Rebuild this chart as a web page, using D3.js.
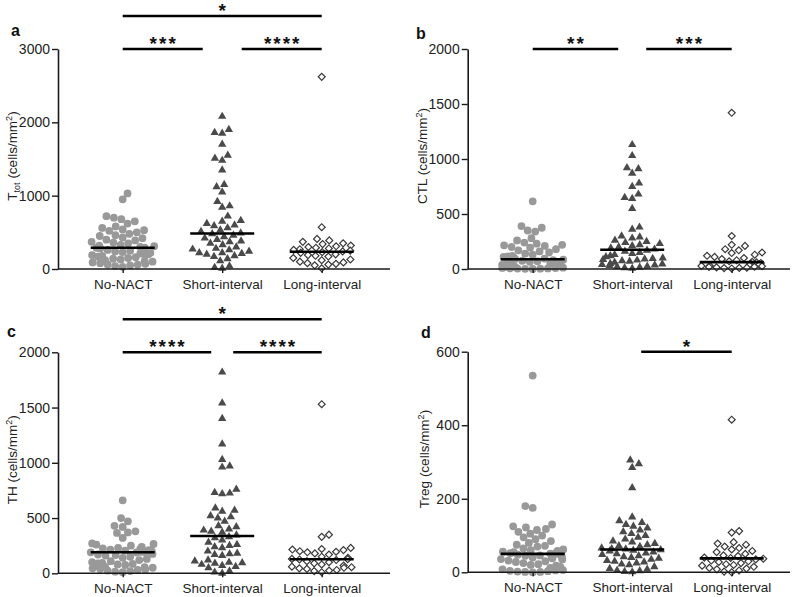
<!DOCTYPE html>
<html>
<head>
<meta charset="utf-8">
<script src="https://cdn.jsdelivr.net/npm/d3@7"></script>
<style>
  html, body { margin: 0; padding: 0; background: #fff; }
  svg { display: block; font-family: "Liberation Sans", Arial, Helvetica, sans-serif; }
</style>
</head>
<body>
<svg id="chart" width="800" height="597"></svg>
<script>
// ---------------- DATA ----------------
const categories = ["No-NACT", "Short-interval", "Long-interval"];

// Panel a: T_tot (cells/mm2)
const ttotNoNACT = [1030, 950, 720, 700, 680, 650, 620, 580, 560, 540, 530, 520, 500, 480, 460, 450, 430, 420, 400, 390, 370, 360, 350, 330, 320, 310, 300, 290, 290, 280, 270, 260, 250, 240, 230, 220, 210, 200, 200, 190, 180, 170, 160, 150, 140, 130, 120, 110, 100, 90, 80, 70, 60, 60, 50, 40, 30];
const ttotShort = [2080, 1900, 1860, 1850, 1700, 1550, 1510, 1480, 1350, 1150, 1120, 1050, 920, 860, 840, 720, 660, 650, 620, 600, 590, 560, 530, 510, 490, 480, 460, 440, 420, 400, 380, 370, 350, 330, 300, 280, 270, 260, 240, 220, 220, 210, 200, 180, 170, 140, 110, 40, 20, 10];
const ttotLong = [2620, 570, 410, 390, 370, 350, 340, 320, 310, 300, 290, 280, 270, 260, 250, 240, 230, 220, 200, 190, 180, 170, 150, 130, 120, 100, 90, 80, 70, 60, 50, 10];
const ttotTicks = [0, 1000, 2000, 3000];
const ttotSig = [[0, 1, "***"], [1, 2, "****"], [0, 2, "*"]];

// Panel b: CTL (cells/mm2)
const ctlNoNACT = [615, 390, 375, 350, 340, 280, 260, 240, 230, 220, 215, 210, 200, 195, 180, 170, 160, 150, 140, 130, 120, 115, 110, 105, 100, 95, 92, 90, 88, 85, 80, 75, 70, 65, 60, 55, 50, 45, 40, 38, 35, 30, 28, 25, 22, 20, 18, 15, 12, 10, 8, 6, 5, 4, 3, 2, 1];
const ctlShort = [1130, 1030, 920, 910, 870, 780, 750, 680, 650, 640, 550, 380, 360, 300, 290, 280, 260, 250, 240, 230, 220, 210, 200, 190, 180, 170, 160, 150, 140, 130, 120, 110, 100, 95, 90, 85, 80, 75, 70, 60, 50, 45, 40, 35, 30, 25, 20, 15, 10, 5];
const ctlLong = [1420, 300, 220, 210, 180, 170, 150, 145, 130, 120, 110, 100, 90, 80, 70, 65, 60, 55, 50, 45, 40, 35, 30, 28, 25, 20, 18, 15, 12, 10, 8, 5];
const ctlTicks = [0, 500, 1000, 1500, 2000];
const ctlSig = [[0, 1, "**"], [1, 2, "***"]];

// Panel c: TH (cells/mm2)
const thNoNACT = [660, 500, 470, 430, 420, 380, 370, 365, 320, 270, 265, 260, 250, 240, 230, 225, 220, 215, 210, 205, 200, 200, 198, 197, 196, 195, 195, 192, 190, 188, 175, 170, 165, 160, 150, 140, 130, 120, 110, 100, 95, 90, 85, 80, 75, 70, 60, 55, 50, 45, 40, 35, 30, 25, 20, 15, 10];
const thShort = [1820, 1540, 1400, 1170, 1030, 970, 960, 760, 730, 725, 720, 590, 570, 560, 520, 510, 500, 470, 430, 420, 400, 390, 380, 370, 345, 330, 320, 300, 280, 260, 250, 240, 230, 200, 180, 175, 170, 160, 120, 110, 100, 95, 90, 80, 70, 60, 50, 20, 10, 0];
const thLong = [1530, 350, 330, 230, 220, 215, 210, 200, 195, 190, 180, 170, 150, 140, 130, 128, 125, 120, 110, 100, 90, 80, 70, 60, 55, 50, 45, 40, 30, 25, 20, 10];
const thTicks = [0, 500, 1000, 1500, 2000];
const thSig = [[0, 1, "****"], [1, 2, "****"], [0, 2, "*"]];

// Panel d: Treg (cells/mm2)
const tregNoNACT = [535, 180, 175, 130, 125, 122, 118, 115, 110, 105, 100, 95, 90, 85, 80, 75, 72, 70, 65, 62, 60, 58, 56, 55, 53, 52, 51, 50, 50, 48, 46, 45, 43, 42, 40, 38, 36, 35, 32, 30, 28, 25, 22, 20, 18, 15, 12, 10, 8, 6, 5, 4, 3, 2, 1, 1, 0];
const tregShort = [305, 295, 285, 230, 150, 140, 135, 130, 125, 120, 115, 110, 105, 100, 95, 90, 85, 82, 78, 75, 72, 70, 66, 64, 63, 61, 60, 58, 55, 52, 50, 48, 45, 42, 40, 38, 35, 32, 30, 28, 25, 22, 20, 15, 10, 8, 5, 4, 2, 1];
const tregLong = [415, 112, 108, 82, 78, 75, 70, 66, 62, 58, 55, 50, 46, 44, 40, 39, 37, 35, 32, 30, 28, 25, 22, 20, 18, 15, 12, 10, 8, 5, 2, 0];
const tregTicks = [0, 200, 400, 600];
const tregSig = [[1, 2, "*"]];

// ---------------- LAYOUT ----------------
const panels = [
  { letter: "a", name: "T", sub: "tot", series: [ttotNoNACT, ttotShort, ttotLong], ticks: ttotTicks, sig: ttotSig,
    left: 58, right: 390, top: 49, bottom: 269, c0: 122.7, c2: 321.7, gap: 19.5,
    letterX: 11, letterY: 36, titleX: 17 },
  { letter: "b", name: "CTL", sub: null, series: [ctlNoNACT, ctlShort, ctlLong], ticks: ctlTicks, sig: ctlSig,
    left: 467.7, right: 790, top: 49, bottom: 269, c0: 532.7, c2: 731.7, gap: 14,
    letterX: 416, letterY: 39, titleX: 427 },
  { letter: "c", name: "TH", sub: null, series: [thNoNACT, thShort, thLong], ticks: thTicks, sig: thSig,
    left: 58, right: 390, top: 352.3, bottom: 573.3, c0: 122.7, c2: 321.7, gap: 11,
    letterX: 7, letterY: 337, titleX: 17 },
  { letter: "d", name: "Treg", sub: null, series: [tregNoNACT, tregShort, tregLong], ticks: tregTicks, sig: tregSig,
    left: 467.7, right: 790, top: 351.7, bottom: 572.3, c0: 532.7, c2: 731.7, gap: 9,
    letterX: 421, letterY: 338, titleX: 429 }
];

const svg = d3.select("#chart");
const AXIS = "#1a1a1a";

// simple beeswarm layout: returns x offsets for each value
function swarm(values, y, D, maxW) {
  const pts = values.map((v, i) => ({ v, i, y: y(v) })).sort((a, b) => b.y - a.y);
  const placed = [];
  let flip = 1;
  pts.forEach(p => {
    const intervals = [];
    placed.forEach(q => {
      const dy = Math.abs(q.y - p.y);
      if (dy < D) {
        const w = Math.sqrt(D * D - dy * dy);
        intervals.push([q.x - w, q.x + w]);
      }
    });
    let cands = [0];
    intervals.forEach(iv => { cands.push(iv[0], iv[1]); });
    cands = cands.filter(c => !intervals.some(iv => c > iv[0] + 1e-6 && c < iv[1] - 1e-6));
    cands.sort((a, b) => (Math.abs(a) - Math.abs(b)) || (flip * (b - a)));
    let x = cands.length ? cands[0] : 0;
    if (Math.abs(x) > maxW) {
      x = Math.sign(x) * maxW * (0.55 + 0.45 * ((placed.length * 7) % 10) / 10);
    }
    flip = -flip;
    p.x = x;
    placed.push(p);
  });
  const out = new Array(values.length);
  pts.forEach(p => { out[p.i] = p.x; });
  return out;
}

panels.forEach(P => {
  const g = svg.append("g");
  const ymax = d3.max(P.ticks);
  const y = d3.scaleLinear().domain([0, ymax]).range([P.bottom, P.top]);
  const x = d3.scalePoint().domain(categories).range([P.c0, P.c2]);

  // points
  P.series.forEach((vals, gi) => {
    const xs = swarm(vals, y, 7.6, 32);
    const cx = x(categories[gi]);
    const sel = g.append("g").selectAll("path").data(vals).join("path")
      .attr("transform", (d, i) => `translate(${cx + xs[i]},${y(d)})` + (gi === 2 ? " rotate(45)" : ""));
    if (gi === 0) {
      sel.attr("d", d3.symbol(d3.symbolCircle, Math.PI * 3.9 * 3.9)).attr("fill", "#999999");
    } else if (gi === 1) {
      sel.attr("d", d3.symbol(d3.symbolTriangle, 30)).attr("fill", "#4a4a4a");
    } else {
      sel.attr("d", d3.symbol(d3.symbolSquare, 24)).attr("fill", "#ffffff")
        .attr("stroke", "#3a3a3a").attr("stroke-width", 1.2);
    }
  });

  // median lines
  P.series.forEach((vals, gi) => {
    const m = d3.median(vals);
    const cx = x(categories[gi]);
    g.append("line").attr("x1", cx - 32).attr("x2", cx + 32)
      .attr("y1", y(m)).attr("y2", y(m))
      .attr("stroke", "#000").attr("stroke-width", 2.6);
  });

  // y axis
  const ya = g.append("g").attr("transform", `translate(${P.left},0)`)
    .call(d3.axisLeft(y).tickValues(P.ticks).tickSize(6).tickSizeOuter(0).tickPadding(2).tickFormat(d3.format("d")));
  ya.select(".domain").attr("stroke", AXIS).attr("stroke-width", 1.6);
  ya.selectAll(".tick line").attr("stroke", AXIS).attr("stroke-width", 1.4);
  ya.selectAll(".tick text").attr("font-size", 14).attr("fill", "#222")
    .style("font-family", "'Liberation Sans', Arial, sans-serif");

  // x axis
  g.append("line").attr("x1", P.left).attr("x2", P.right).attr("y1", P.bottom).attr("y2", P.bottom)
    .attr("stroke", AXIS).attr("stroke-width", 1.6);
  const xa = g.append("g").attr("transform", `translate(0,${P.bottom})`)
    .call(d3.axisBottom(x).tickSize(4).tickPadding(6));
  xa.select(".domain").remove();
  xa.selectAll(".tick line").attr("stroke", AXIS).attr("stroke-width", 1.4);
  xa.selectAll(".tick text").attr("font-size", 13.5).attr("fill", "#222")
    .style("font-family", "'Liberation Sans', Arial, sans-serif");

  // y title
  const cy = (P.top + P.bottom) / 2 - 3;
  const t = g.append("text").attr("transform", `translate(${P.titleX},${cy}) rotate(-90)`)
    .attr("text-anchor", "middle").attr("font-size", 13.5).attr("fill", "#222");
  t.append("tspan").text(P.name);
  if (P.sub) {
    t.append("tspan").attr("font-size", 9).attr("dy", 3).text(P.sub);
    t.append("tspan").attr("dy", -3).text(" (cells/mm");
  } else {
    t.append("tspan").text(" (cells/mm");
  }
  t.append("tspan").attr("font-size", 9).attr("dy", -5).text("2");
  t.append("tspan").attr("dy", 5).text(")");

  // panel letter
  g.append("text").attr("x", P.letterX).attr("y", P.letterY).attr("font-size", 16)
    .attr("font-weight", "bold").attr("fill", "#111").text(P.letter);

  // significance brackets
  P.sig.forEach(s => {
    const [i, j, label] = s;
    const far = (j - i) === 2;
    const yy = far ? P.top - 33 : P.top;
    let x1 = x(categories[i]), x2 = x(categories[j]);
    if (!far) {
      if (i === 0) x2 -= P.gap; else x1 += P.gap;
    }
    g.append("line").attr("x1", x1).attr("x2", x2).attr("y1", yy).attr("y2", yy)
      .attr("stroke", "#000").attr("stroke-width", 2.6);
    g.append("text").attr("x", (x1 + x2) / 2 + 1).attr("y", yy + 1)
      .attr("text-anchor", "middle").attr("font-size", 19).attr("font-weight", "bold")
      .attr("letter-spacing", 2).attr("fill", "#111").text(label);
  });
});
</script>
</body>
</html>
